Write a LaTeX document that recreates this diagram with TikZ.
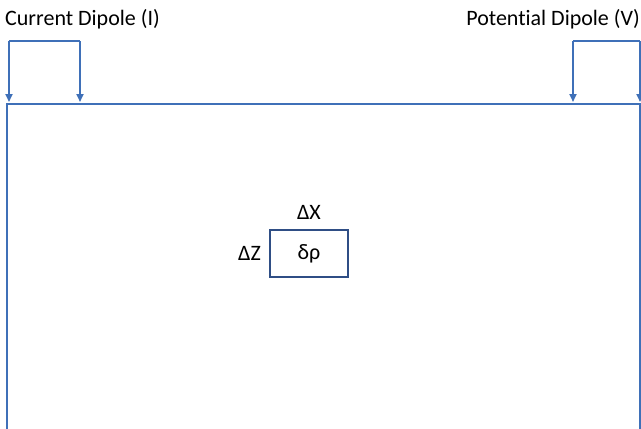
\documentclass[tikz,border=0pt]{standalone}
\usepackage{fontspec}
\setmainfont[Ligatures=NoCommon]{Carlito}
\usetikzlibrary{arrows.meta}
\definecolor{lineblue}{HTML}{3F70B8}
\definecolor{boxblue}{HTML}{2F4E85}
\tikzset{
  wire/.style={draw=lineblue, line width=1.9pt},
  feed/.style={wire, -{Triangle[length=8pt,width=7pt]}},
  lbl/.style={font=\fontsize{22}{26}\selectfont, inner sep=0pt, text=black},
  cell/.style={draw=boxblue, line width=1.7pt, minimum width=78pt, minimum height=47pt, inner sep=0pt, font=\fontsize{22}{26}\selectfont}
}
\begin{document}
\begin{tikzpicture}[x=1pt,y=-1pt]
\useasboundingbox (0,0) rectangle (641,429);
\clip (0,0) rectangle (641,429);
% ground
\draw[wire] (7,440) -- (7,104) -- (640,104) -- (640,440);
% labels
\node[lbl, anchor=west] (cur) at (5,19) {Current Dipole (I)};
\node[lbl, anchor=east] (pot) at (640,19) {Potential Dipole (V)};
% current dipole
\coordinate (c1) at (9,102);
\coordinate (c2) at (80,102);
\draw[feed] (9,41) -- (c1);
\draw[wire] (9,41) -- (80,41);
\draw[feed] (80,41) -- (c2);
% potential dipole
\coordinate (p1) at (573,102);
\coordinate (p2) at (640,102);
\draw[feed] (573,41) -- (p1);
\draw[wire] (573,41) -- (640,41);
\draw[feed] (640,41) -- (p2);
% cell
\node[cell] (rho) at (309,253.5) {δρ};
\node[lbl, anchor=south] (dx) at ([yshift=9pt]rho.north) {ΔX};
\node[lbl, anchor=east] (dz) at ([xshift=-8pt]rho.west) {ΔZ};
\end{tikzpicture}
\end{document}
